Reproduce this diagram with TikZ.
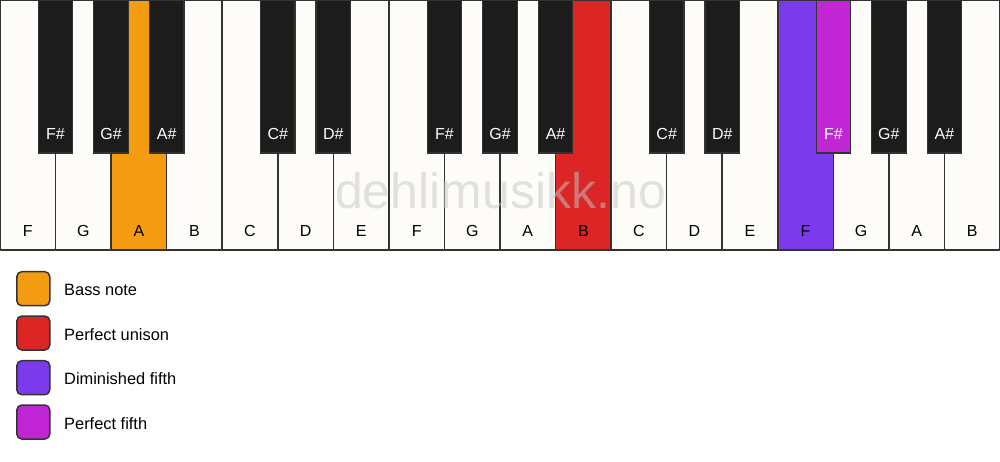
\documentclass[tikz,border=0pt]{standalone}
\usepackage{fontspec}
\setmainfont{Liberation Sans}
\usetikzlibrary{calc}
\definecolor{keywhite}{HTML}{FDFCF9}
\definecolor{keyblack}{HTML}{1C1C1C}
\definecolor{keyline}{HTML}{333333}
\definecolor{cbass}{HTML}{F39C12}
\definecolor{cunison}{HTML}{DC2626}
\definecolor{cdim}{HTML}{7C3AED}
\definecolor{cfifth}{HTML}{C026D3}
\tikzset{
  whitekey/.style={draw=keyline, line width=1.5pt, fill=keywhite, minimum width=55.556pt, minimum height=250pt, inner sep=0pt, outer sep=0pt, anchor=north west},
  blackkey/.style={draw=keyline, line width=1.2pt, fill=keyblack, minimum width=34.5pt, minimum height=153pt, inner sep=0pt, outer sep=0pt, anchor=north},
  wlabel/.style={font=\fontsize{16}{16}\selectfont, text=black, anchor=base, inner sep=0pt},
  blabel/.style={font=\fontsize{16}{16}\selectfont, text=white, anchor=base, inner sep=0pt},
  legbox/.style={draw=keyline, line width=1.5pt, rounded corners=5pt, minimum width=33pt, minimum height=34pt, inner sep=0pt},
  legtext/.style={font=\fontsize{16.4}{16.4}\selectfont, text=black, anchor=base west, inner sep=0pt},
  watermark/.style={font=\fontsize{50}{50}\selectfont, text=gray!45, text opacity=0.5, anchor=base, inner sep=0pt}
}
\begin{document}
\begin{tikzpicture}[x=1pt,y=-1pt]
\useasboundingbox[fill=white] (0,0) rectangle (1000,461);
% white keys
\foreach \i/\c in {0/keywhite,1/keywhite,2/cbass,3/keywhite,4/keywhite,5/keywhite,6/keywhite,7/keywhite,8/keywhite,9/keywhite,10/cunison,11/keywhite,12/keywhite,13/keywhite,14/cdim,15/keywhite,16/keywhite,17/keywhite}{
  \node[whitekey, fill=\c] (wk\i) at ({\i*55.556},0) {};
}
% watermark
\node[watermark] (wm) at (500.5,208) {dehlimusikk.no};
% white labels
\foreach \i/\n in {0/F,1/G,2/A,3/B,4/C,5/D,6/E,7/F,8/G,9/A,10/B,11/C,12/D,13/E,14/F,15/G,16/A,17/B}{
  \node[wlabel] (wl\i) at ($(wk\i.south)+(0,-14)$) {\n};
}
% black keys
\foreach \i/\n/\c in {0/F\#/keyblack,1/G\#/keyblack,2/A\#/keyblack,4/C\#/keyblack,5/D\#/keyblack,7/F\#/keyblack,8/G\#/keyblack,9/A\#/keyblack,11/C\#/keyblack,12/D\#/keyblack,14/F\#/cfifth,15/G\#/keyblack,16/A\#/keyblack}{
  \node[blackkey, fill=\c] (bk\i) at ({(\i+1)*55.556},0) {};
  \node[blabel] (bl\i) at ($(bk\i.south)+(0,-13.7)$) {\n};
}
% legend
\foreach \k/\y/\c/\txt in {1/288.7/cbass/Bass note,2/333/cunison/Perfect unison,3/377.7/cdim/Diminished fifth,4/422/cfifth/Perfect fifth}{
  \node[legbox, fill=\c] (lb\k) at (33.3,\y) {};
  \node[legtext] (lt\k) at (64,{\y+7}) {\txt};
}
\end{tikzpicture}
\end{document}
